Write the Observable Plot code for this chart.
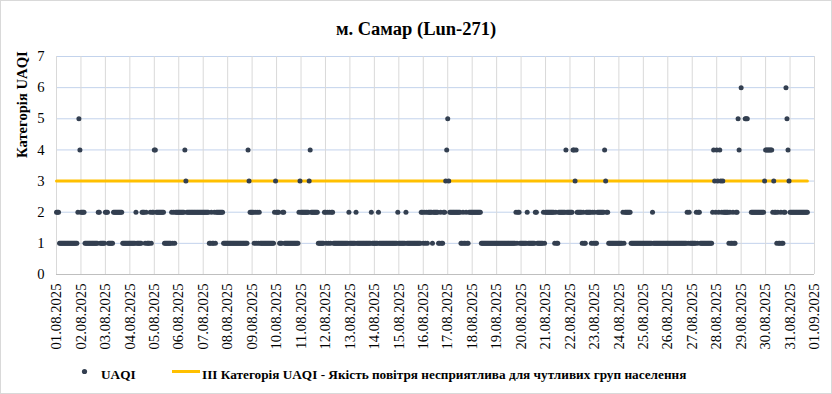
<!DOCTYPE html>
<html><head><meta charset="utf-8">
<script src="https://cdn.jsdelivr.net/npm/d3@7"></script>
<script src="https://cdn.jsdelivr.net/npm/@observablehq/plot@0.6"></script>
<style>
body{margin:0;background:#fff;}
#wrap{position:relative;width:832px;height:394px;overflow:hidden;font-family:"Liberation Serif","Times New Roman",serif;color:#000;background:#fff;}
#border{position:absolute;left:0;top:0;width:830px;height:392px;border:1px solid #d9d9d9;pointer-events:none;}
#chart{position:absolute;left:0;top:0;}
#title{position:absolute;left:0;top:20px;width:832px;text-align:center;font-weight:bold;font-size:18.5px;line-height:18px;white-space:nowrap;}
.lg{position:absolute;font-weight:bold;font-size:13.25px;line-height:16px;white-space:nowrap;}
</style></head><body>
<div id="wrap">
<div id="chart"></div>
<div id="title">м. Самар (Lun-271)</div>
<svg class="lg" style="left:80px;top:367px" width="10" height="10"><circle cx="4.5" cy="4.5" r="2.6" fill="#333F50"></circle></svg>
<div class="lg" id="lg1" style="left:101px;top:367px"></div>
<div style="position:absolute;left:172px;top:370px;width:28px;height:3px;background:#FFC000"></div>
<div class="lg" id="lg2" style="left:202px;top:367px"></div>
<div id="border"></div>
</div>
<script>
// ---- data, one string per day, one char per hour; "-" = no value
const seriesName = "UAQI";
const thresholdName = "III Категорія UAQI - Якість повітря несприятлива для чутливих груп населення";
const threshold = 3;
const yTicks = [0, 1, 2, 3, 4, 5, 6, 7];
const firstDay = "2025-08-01";
const lastDay = "2025-09-01";
const hourlyUAQI = [
  "222" + "111111111111111111" + "254",                                   // 01.08
  "2222" + "1111111111111" + "22" + "11111",                              // 02.08
  "222" + "11111" + "222222222" + "1111111",                              // 03.08
  "111111" + "2" + "11111" + "222" + "1" + "2" + "111" + "2" + "1" + "22",// 04.08
  "4" + "4" + "22222222" + "1111111" + "2121" + "222",                    // 05.08
  "222222" + "4" + "3" + "2222222222222222",                              // 06.08
  "222222" + "1121121" + "2222222" + "1111",                              // 07.08
  "11111111111111111111" + "43" + "22",                                   // 08.08
  "22" + "121212" + "11111111111111" + "23",                              // 09.08
  "222" + "111" + "22" + "11111111111111" + "23",                         // 10.08
  "22222222" + "3" + "4" + "2222222" + "111111" + "2",                    // 11.08
  "21212122" + "111111111111111" + "2",                                   // 12.08
  "111111" + "2" + "11111111111111" + "2" + "11",                         // 13.08
  "1111" + "2" + "111111111111111111" + "2",                              // 14.08
  "1111111" + "2" + "11111111111111" + "22",                              // 15.08
  "12121" + "2222" + "1" + "22222" + "11211" + "22" + "3" + "4",          // 16.08
  "5" + "3" + "22222222222" + "11211211" + "222",                         // 17.08
  "222222222" + "111111111111111",                                        // 18.08
  "1111111111111111111" + "2122" + "1",                                   // 19.08
  "111111" + "2" + "1111111" + "22" + "111111" + "2" + "1",               // 20.08
  "222222222" + "1211" + "2222222" + "4" + "2" + "22",                    // 21.08
  "222" + "4" + "4" + "3" + "4" + "22222" + "1211" + "22222" + "121",     // 22.08
  "211" + "2222222" + "4" + "3" + "22" + "1111111111",                    // 23.08
  "1111" + "2" + "1" + "222222" + "111111111111",                         // 24.08
  "111111111" + "2" + "11111111111111",                                   // 25.08
  "1111111111111111111" + "212" + "11",                                   // 26.08
  "1111" + "21221" + "11111111111" + "2" + "4" + "3" + "2",               // 27.08
  "4" + "3" + "2" + "4" + "3" + "2" + "3" + "22222" + "1211211" + "22" + "5" + "4" + "-", // 28.08
  "6" + "---" + "555" + "---" + "2222222222222" + "3",                    // 29.08
  "4444444" + "2" + "3" + "22" + "1211211" + "22" + "6" + "5" + "4" + "3",// 30.08
  "222222222222222222" + "------"                                         // 31.08
];

document.getElementById("lg1").textContent = seriesName;
document.getElementById("lg2").textContent = thresholdName;

const x0 = new Date(firstDay + "T00:00:00Z");
const x1 = new Date(lastDay + "T00:00:00Z");
const data = [];
hourlyUAQI.forEach((s, d) => {
  for (let h = 0; h < s.length; h++) {
    const c = s[h];
    if (c !== "-") data.push({t: new Date(x0.getTime() + (d * 24 + h) * 3600e3), v: +c});
  }
});
const dayTicks = d3.utcDay.range(x0, d3.utcDay.offset(x1, 1));

const chart = Plot.plot({
  width: 832, height: 362,
  marginTop: 56, marginBottom: 88, marginLeft: 56, marginRight: 18,
  style: {fontFamily: "'Liberation Serif','Times New Roman',serif", fontSize: "14.67px", color: "#000", background: "transparent", overflow: "visible"},
  x: {type: "utc", domain: [x0, x1]},
  y: {domain: [0, 7]},
  marks: [
    Plot.gridY(yTicks.filter(d => d > 0), {stroke: "#c3d3ec", strokeOpacity: 1}),
    Plot.gridX(dayTicks, {stroke: "#d9d9d9", strokeOpacity: 1}),
    Plot.ruleY([0], {stroke: "#bfbfbf"}),
    Plot.axisY(yTicks, {tickSize: 0, tickPadding: 12, label: null}),
    Plot.axisX(dayTicks, {tickSize: 0, tickPadding: 9, tickRotate: -90, tickFormat: d3.utcFormat("%d.%m.%Y"), label: null}),
    Plot.text(["Категорія UAQI"], {frameAnchor: "left", rotate: -90, dx: -34, dy: -7.5, fontWeight: "bold", fontSize: 14.67}),
    Plot.line(data, {x: "t", y: () => threshold, stroke: "#FFC000", strokeWidth: 3}),
    Plot.dot(data, {x: "t", y: "v", r: 2.5, fill: "#333F50"})
  ]
});
document.getElementById("chart").appendChild(chart);
</script>
</body></html>
